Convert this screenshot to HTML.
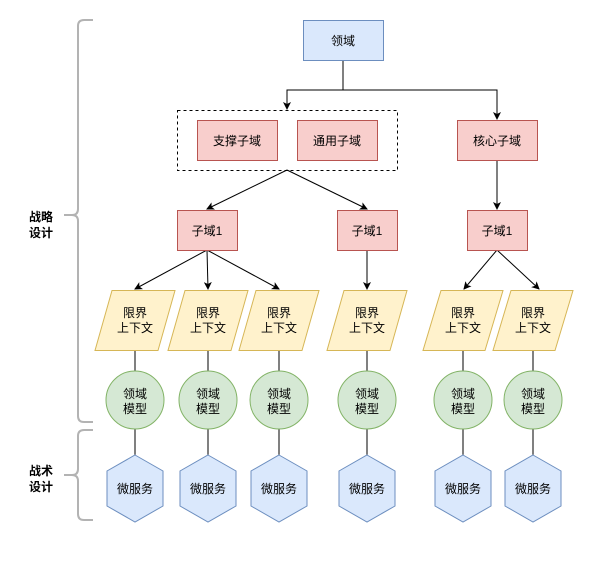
<!DOCTYPE html>
<html><head><meta charset="utf-8"><style>
body{margin:0;background:#fff;}
svg text{font-family:"Liberation Sans","Noto Sans CJK SC",sans-serif;font-size:12px;fill:#000;text-anchor:middle;}
</style></head><body>
<svg width="616" height="557" viewBox="0 0 616 557" xmlns="http://www.w3.org/2000/svg">
<defs><marker id="a" markerWidth="8" markerHeight="8" refX="7" refY="4" orient="auto" markerUnits="userSpaceOnUse"><path d="M0,0 L8,4 L0,8 L2,4 Z" fill="#000"/></marker></defs>
<path d="M93,20 H84 Q78,20 78,26 V209 Q78,215 72,215 H64 H72 Q78,215 78,221 V416 Q78,422 84,422 H93" fill="none" stroke="#b3b3b3" stroke-width="2"/>
<path d="M93,430 H84 Q78,430 78,436 V469 Q78,475 72,475 H64 H72 Q78,475 78,481 V514 Q78,520 84,520 H93" fill="none" stroke="#b3b3b3" stroke-width="2"/>
<text x="41" y="221" style="font-weight:bold">战略</text>
<text x="41" y="237" style="font-weight:bold">设计</text>
<text x="41" y="475" style="font-weight:bold">战术</text>
<text x="41" y="491" style="font-weight:bold">设计</text>
<g stroke="#000" fill="none" stroke-width="1">
<path d="M343,60 V90 H287 V109" marker-end="url(#a)"/>
<path d="M343,90 H497 V119" marker-end="url(#a)"/>
<path d="M287,170 L207,209" marker-end="url(#a)"/>
<path d="M287,170 L367,209" marker-end="url(#a)"/>
<path d="M497,160 V209" marker-end="url(#a)"/>
<path d="M207,250 L135,289" marker-end="url(#a)"/>
<path d="M207,250 L208,289" marker-end="url(#a)"/>
<path d="M207,250 L279,289" marker-end="url(#a)"/>
<path d="M367,250 V289" marker-end="url(#a)"/>
<path d="M497,250 L464,289" marker-end="url(#a)"/>
<path d="M497,250 L539,289" marker-end="url(#a)"/>
<path d="M135,350V455M208,350V455M279,350V455M367,350V455M463,350V455M533,350V455"/>
</g>
<rect x="303.5" y="20.5" width="80" height="40" fill="#dae8fc" stroke="#6c8ebf"/>
<text x="343" y="45">领域</text>
<rect x="177.5" y="110.5" width="220" height="60" fill="none" stroke="#000" stroke-dasharray="3,3"/>
<g fill="#f8cecc" stroke="#b85450">
<rect x="197.5" y="120.5" width="80" height="40"/>
<rect x="297.5" y="120.5" width="80" height="40"/>
<rect x="457.5" y="120.5" width="80" height="40"/>
<rect x="177.5" y="210.5" width="60" height="40"/>
<rect x="337.5" y="210.5" width="60" height="40"/>
<rect x="467.5" y="210.5" width="60" height="40"/>
</g>
<text x="237" y="145">支撑子域</text>
<text x="337" y="145">通用子域</text>
<text x="497" y="145">核心子域</text>
<text x="207" y="235">子域1</text>
<text x="367" y="235">子域1</text>
<text x="497" y="235">子域1</text>
<g fill="#fff2cc" stroke="#d6b656">
<path d="M112,290.5H175L158,350.5H95Z"/>
<path d="M185,290.5H248L231,350.5H168Z"/>
<path d="M256,290.5H319L302,350.5H239Z"/>
<path d="M344,290.5H407L390,350.5H327Z"/>
<path d="M441,290.5H503L485,350.5H423Z"/>
<path d="M511,290.5H573L555,350.5H493Z"/>
</g>
<g fill="#d5e8d4" stroke="#82b366">
<circle cx="135" cy="400" r="29"/><circle cx="208" cy="400" r="29"/><circle cx="279" cy="400" r="29"/>
<circle cx="367" cy="400" r="29"/><circle cx="463" cy="400" r="29"/><circle cx="533" cy="400" r="29"/>
</g>
<g fill="#dae8fc" stroke="#6c8ebf">
<path d="M135,455L163,471V506L135,522L107,506V471Z"/>
<path d="M208,455L236,471V506L208,522L180,506V471Z"/>
<path d="M279,455L307,471V506L279,522L251,506V471Z"/>
<path d="M367,455L395,471V506L367,522L339,506V471Z"/>
<path d="M463,455L491,471V506L463,522L435,506V471Z"/>
<path d="M533,455L561,471V506L533,522L505,506V471Z"/>
</g>
<g>
<text x="135" y="317">限界</text><text x="135" y="332">上下文</text>
<text x="208" y="317">限界</text><text x="208" y="332">上下文</text>
<text x="279" y="317">限界</text><text x="279" y="332">上下文</text>
<text x="367" y="317">限界</text><text x="367" y="332">上下文</text>
<text x="463" y="317">限界</text><text x="463" y="332">上下文</text>
<text x="533" y="317">限界</text><text x="533" y="332">上下文</text>
<text x="135" y="398">领域</text><text x="135" y="413">模型</text>
<text x="208" y="398">领域</text><text x="208" y="413">模型</text>
<text x="279" y="398">领域</text><text x="279" y="413">模型</text>
<text x="367" y="398">领域</text><text x="367" y="413">模型</text>
<text x="463" y="398">领域</text><text x="463" y="413">模型</text>
<text x="533" y="398">领域</text><text x="533" y="413">模型</text>
<text x="135" y="493">微服务</text><text x="208" y="493">微服务</text><text x="279" y="493">微服务</text>
<text x="367" y="493">微服务</text><text x="463" y="493">微服务</text><text x="533" y="493">微服务</text>
</g>
</svg>
</body></html>
